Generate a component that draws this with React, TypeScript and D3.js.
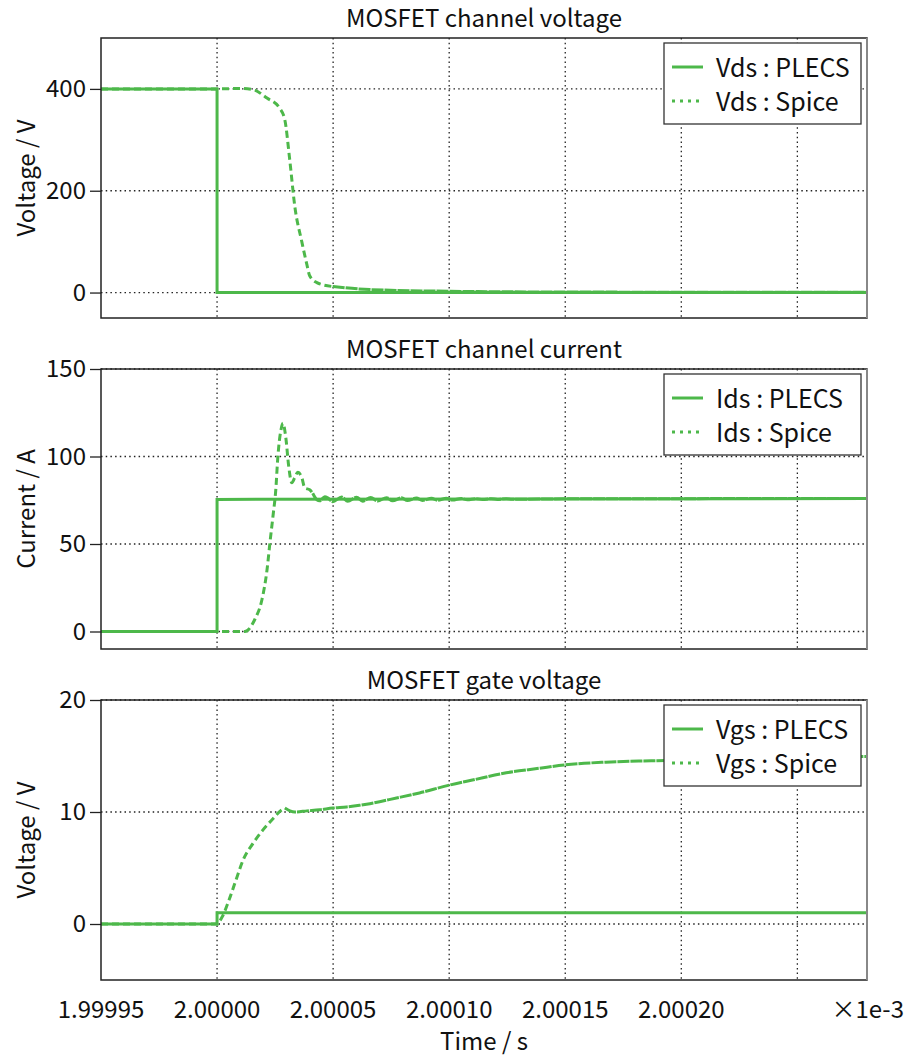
import React, { useEffect, useRef } from 'react'
import * as d3 from 'd3'

// time in ms (axis shows x1e-3 s)
type Pt = [number, number]

const timeDomain: [number, number] = [1.99995, 2.00028]
const timeTicks = [1.99995, 2.0, 2.00005, 2.0001, 2.00015, 2.0002, 2.00025]
const timeLabels = ['1.99995', '2.00000', '2.00005', '2.00010', '2.00015', '2.00020', '']

const vdsPlecs: Pt[] = [[1.99995, 400], [2.0, 400], [2.0, 0], [2.00028, 0]]
const vdsSpice: Pt[] = [
  [1.99995, 400], [2.0, 400], [2.0000099, 401], [2.0000155, 398.5], [2.0000215, 382],
  [2.000027, 362], [2.0000292, 339], [2.0000313, 261], [2.0000335, 169], [2.0000365, 100],
  [2.0000387, 55], [2.0000399, 33], [2.000043, 19.6], [2.0000498, 11.8], [2.0000657, 5.9],
  [2.0001001, 2.5], [2.0001516, 1], [2.00028, 0.4]
]

const idsPlecs: Pt[] = [[1.99995, 0], [2.0, 0], [2.0, 75.5], [2.00028, 76]]
const idsSpice: Pt[] = [
  [1.99995, 0], [2.000012, 0], [2.0000163, 7], [2.0000193, 18], [2.0000215, 35],
  [2.0000228, 51], [2.0000241, 66], [2.0000253, 81], [2.0000262, 100], [2.0000275, 115],
  [2.0000284, 119], [2.0000296, 111], [2.0000309, 94], [2.0000322, 85], [2.0000335, 88],
  [2.0000348, 91], [2.0000365, 88], [2.0000378, 82], [2.0000399, 81], [2.0000412, 79],
  [2.000043, 75.3], [2.0000442, 74.7], [2.0000464, 77], [2.0000477, 76.4], [2.0000498, 74.2],
  [2.0000537, 76.8], [2.0000563, 74.4], [2.0000601, 76.7], [2.0000627, 74.5], [2.0000662, 76.6],
  [2.0000692, 74.6], [2.000073, 76.5], [2.0000756, 74.7], [2.0000795, 76.4], [2.000082, 74.8],
  [2.0000859, 76.3], [2.0000885, 74.9], [2.0000924, 76.2], [2.0000949, 75.0], [2.0000988, 76.1],
  [2.0001014, 75.1], [2.0001052, 76.0], [2.0001078, 75.3], [2.0001117, 75.9], [2.0001143, 75.4],
  [2.0001181, 75.85], [2.0001207, 75.5], [2.0001246, 75.8], [2.0001271, 75.6], [2.00015, 75.8],
  [2.00028, 76]
]

const vgsPlecs: Pt[] = [[1.99995, 0], [2.0, 0], [2.0, 1], [2.00028, 1]]
const vgsSpice: Pt[] = [
  [1.99995, 0], [2.0, 0], [2.0000021, 0.6], [2.0000056, 2.4], [2.0000086, 4.2],
  [2.0000112, 5.7], [2.0000155, 7.2], [2.0000198, 8.4], [2.0000241, 9.4], [2.0000279, 10.2],
  [2.0000292, 10.35], [2.0000314, 10.1], [2.0000335, 10.0], [2.0000387, 10.1], [2.0000442, 10.2],
  [2.0000498, 10.35], [2.0000558, 10.45], [2.0000614, 10.6], [2.0000644, 10.7], [2.0000773, 11.25],
  [2.0000872, 11.7], [2.0001001, 12.4], [2.00011, 12.85], [2.0001246, 13.5], [2.0001387, 13.9],
  [2.0001495, 14.2], [2.0001675, 14.45], [2.0001817, 14.55], [2.0001933, 14.6], [2.0002075, 14.7],
  [2.0002333, 14.85], [2.00028, 14.95]
]

const panels = [
  {
    title: 'MOSFET channel voltage', yLabel: 'Voltage / V', yDomain: [-50, 500], yTicks: [0, 200, 400],
    plecs: vdsPlecs, spice: vdsSpice, names: ['Vds : PLECS', 'Vds : Spice'], solidFrom: 2.0000498
  },
  {
    title: 'MOSFET channel current', yLabel: 'Current / A', yDomain: [-10, 150], yTicks: [0, 50, 100, 150],
    plecs: idsPlecs, spice: idsSpice, names: ['Ids : PLECS', 'Ids : Spice'], solidFrom: 2.0000412
  },
  {
    title: 'MOSFET gate voltage', yLabel: 'Voltage / V', yDomain: [-5, 20], yTicks: [0, 10, 20],
    plecs: vgsPlecs, spice: vgsSpice, names: ['Vgs : PLECS', 'Vgs : Spice'], solidFrom: 2.0000292
  }
]

const FONT = '"Noto Sans CJK JP", "Noto Sans", sans-serif'
const GREEN = '#4db84a'

function App () {
  const ref = useRef<SVGSVGElement>(null)

  useEffect(() => {
    const svg = d3.select(ref.current)
    svg.selectAll('*').remove()

    const left = 101
    const right = 867
    const tops = [38, 369, 700]
    const h = 280

    const x = d3.scaleLinear().domain(timeDomain).range([left, right])

    panels.forEach((p, i) => {
      const top = tops[i]
      const bottom = top + h
      const y = d3.scaleLinear().domain(p.yDomain).range([bottom, top])
      const g = svg.append('g')

      g.append('defs').append('clipPath').attr('id', 'clip' + i)
        .append('rect').attr('x', left).attr('y', top).attr('width', right - left).attr('height', h)

      // grid
      g.append('g').selectAll('line').data(timeTicks.slice(1)).join('line')
        .attr('x1', d => x(d)).attr('x2', d => x(d)).attr('y1', top).attr('y2', bottom)
        .attr('stroke', '#222').attr('stroke-width', 1.3).attr('stroke-dasharray', '1.5,3.2')
      g.append('g').selectAll('line').data(p.yTicks).join('line')
        .attr('x1', left).attr('x2', right).attr('y1', d => y(d)).attr('y2', d => y(d))
        .attr('stroke', '#222').attr('stroke-width', 1.3).attr('stroke-dasharray', '1.5,3.2')

      // y axis
      const ya = g.append('g').attr('transform', `translate(${left},0)`)
        .call(d3.axisLeft(y).tickValues(p.yTicks).tickSize(11).tickPadding(4).tickFormat(d3.format('d')))
      ya.select('.domain').remove()
      ya.selectAll('line').attr('stroke', '#222').attr('stroke-width', 1.3)
      ya.selectAll('text').attr('font-family', FONT).attr('font-size', 24).attr('fill', '#111')

      // curves
      const line = d3.line<Pt>().x(d => x(d[0])).y(d => y(d[1]))
      const smooth = d3.line<Pt>().x(d => x(d[0])).y(d => y(d[1])).curve(d3.curveMonotoneX)
      const plot = g.append('g').attr('clip-path', `url(#clip${i})`)
      plot.append('path').attr('d', line(p.plecs))
        .attr('fill', 'none').attr('stroke', GREEN).attr('stroke-width', 3)
      const dashed = p.spice.filter(d => d[0] <= p.solidFrom)
      const solid = p.spice.filter(d => d[0] >= p.solidFrom)
      plot.append('path').attr('d', smooth(dashed))
        .attr('fill', 'none').attr('stroke', GREEN).attr('stroke-width', 3).attr('stroke-dasharray', '7,4')
      plot.append('path').attr('d', smooth(solid))
        .attr('fill', 'none').attr('stroke', GREEN).attr('stroke-width', 3).attr('stroke-dasharray', '12,1')

      // frame
      g.append('rect').attr('x', left).attr('y', top).attr('width', right - left).attr('height', h)
        .attr('fill', 'none').attr('stroke', '#222').attr('stroke-width', 1.5)
      g.append('line').attr('x1', right).attr('x2', right).attr('y1', top).attr('y2', bottom)
        .attr('stroke', '#888').attr('stroke-width', 2)

      // title
      g.append('text').attr('x', (left + right) / 2).attr('y', top - 11)
        .attr('text-anchor', 'middle').attr('font-family', FONT).attr('font-size', 24).attr('fill', '#111')
        .text(p.title)

      // y label
      g.append('text').attr('transform', `translate(35,${(top + bottom) / 2}) rotate(-90)`)
        .attr('text-anchor', 'middle').attr('font-family', FONT).attr('font-size', 24).attr('fill', '#111')
        .text(p.yLabel)

      // legend
      const lg = g.append('g').attr('transform', `translate(${right - 203},${top + 5})`)
      lg.append('rect').attr('width', 197).attr('height', 81)
        .attr('fill', '#fff').attr('stroke', '#333').attr('stroke-width', 1.3)
      p.names.forEach((name, k) => {
        const ly = 24 + k * 34
        lg.append('line').attr('x1', 8).attr('x2', 39).attr('y1', ly).attr('y2', ly)
          .attr('stroke', GREEN).attr('stroke-width', 3)
          .attr('stroke-dasharray', k === 0 ? null : '3,5')
        lg.append('text').attr('x', 52).attr('y', ly + 10)
          .attr('font-family', FONT).attr('font-size', 25).attr('fill', '#111')
          .text(name)
      })

      // x axis labels on last panel
      if (i === panels.length - 1) {
        svg.append('g').selectAll('text').data(timeTicks).join('text')
          .attr('x', d => x(d)).attr('y', bottom + 38)
          .attr('text-anchor', 'middle').attr('font-family', FONT).attr('font-size', 24).attr('fill', '#111')
          .text((d, k) => timeLabels[k])
        svg.append('text').attr('x', 904).attr('y', bottom + 38).attr('text-anchor', 'end')
          .attr('font-family', FONT).attr('font-size', 24).attr('fill', '#111')
          .text('×1e-3')
        svg.append('text').attr('x', (left + right) / 2).attr('y', bottom + 70)
          .attr('text-anchor', 'middle').attr('font-family', FONT).attr('font-size', 24).attr('fill', '#111')
          .text('Time / s')
      }
    })
  }, [])

  return (
    <div style={{ position: 'absolute', left: 0, top: 0 }}>
      <svg ref={ref} width={905} height={1062} style={{ display: 'block', background: '#fff' }} />
    </div>
  )
}

export default App
